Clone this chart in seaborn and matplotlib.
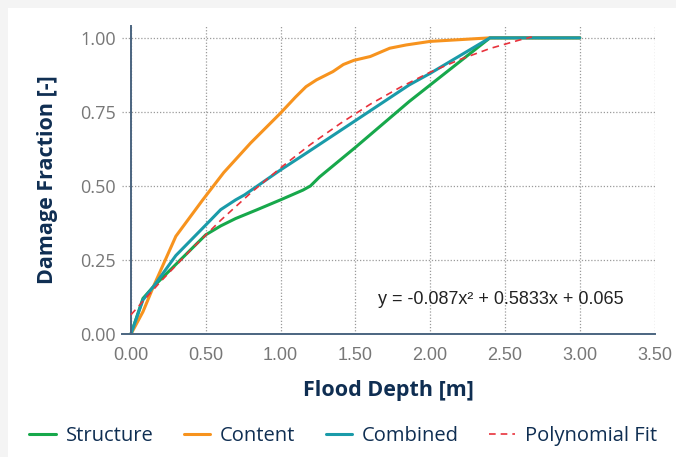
import pandas as pd
import matplotlib.pyplot as plt
import seaborn as sns
from matplotlib.patches import Rectangle

# -------------------- DATA --------------------
structure_depth = [0.0, 0.08, 0.15, 0.30, 0.50, 0.60, 0.70, 0.84, 1.00, 1.15, 1.20, 1.26, 1.50, 1.86, 2.40, 3.00]
structure_damage = [0.0, 0.12, 0.16, 0.235, 0.335, 0.365, 0.39, 0.419, 0.453, 0.486, 0.50, 0.53, 0.63, 0.785, 1.0, 1.0]

content_depth = [0.0, 0.08, 0.15, 0.30, 0.48, 0.62, 0.80, 1.00, 1.10, 1.17, 1.24, 1.35, 1.42, 1.49, 1.60, 1.73, 1.84, 2.00, 2.40, 3.00]
content_damage = [0.0, 0.075, 0.16, 0.33, 0.453, 0.545, 0.645, 0.746, 0.80, 0.835, 0.858, 0.886, 0.91, 0.924, 0.937, 0.965, 0.976, 0.988, 1.0, 1.0]

combined_depth = [0.0, 0.08, 0.15, 0.30, 0.50, 0.60, 0.70, 0.76, 1.00, 1.17, 1.49, 1.86, 2.00, 2.40, 3.00]
combined_damage = [0.0, 0.115, 0.16, 0.265, 0.368, 0.42, 0.453, 0.47, 0.554, 0.61, 0.717, 0.841, 0.88, 1.0, 1.0]

fit_depth = [0.0, 0.2, 0.4, 0.6, 0.8, 1.0, 1.2, 1.4, 1.6, 1.8, 2.0, 2.2, 2.4, 2.6, 2.68]
fit_damage = [0.065, 0.178, 0.284, 0.384, 0.476, 0.561, 0.640, 0.711, 0.776, 0.833, 0.884, 0.927, 0.964, 0.993, 1.003]

fit_label = "y = -0.087x² + 0.5833x + 0.065"
x_ticks = [0.0, 0.5, 1.0, 1.5, 2.0, 2.5, 3.0, 3.5]
y_ticks = [0.0, 0.25, 0.5, 0.75, 1.0]

# -------------------- STYLE --------------------
sns.set_theme(style="white")
plt.rcParams["font.family"] = ["Open Sans", "DejaVu Sans"]

navy = "#0f2e52"
colors = {"Structure": "#17a84b", "Content": "#f7931e", "Combined": "#1a9ba9"}

fig = plt.figure(figsize=(6.76, 4.57), dpi=100, facecolor="#f4f4f4")
fig.patches.append(Rectangle((8 / 676, 0), 1, 1 - 8 / 457, transform=fig.transFigure,
                             facecolor="white", edgecolor="none", zorder=-10))
ax = fig.add_axes([122 / 676, 1 - 334 / 457, (654.5 - 122) / 676, (334 - 26) / 457])
ax.set_facecolor("none")

# -------------------- LINES --------------------
sns.lineplot(x=structure_depth, y=structure_damage, ax=ax, color=colors["Structure"],
             lw=2.2, label="Structure", sort=False)
sns.lineplot(x=content_depth, y=content_damage, ax=ax, color=colors["Content"],
             lw=2.2, label="Content", sort=False)
sns.lineplot(x=fit_depth, y=fit_damage, ax=ax, color="#e8323c", lw=1.2,
             label="Polynomial Fit", sort=False, zorder=3)
sns.lineplot(x=combined_depth, y=combined_damage, ax=ax, color=colors["Combined"],
             lw=2.2, label="Combined", sort=False, zorder=2.5)
ax.lines[2].set_linestyle((0, (4, 3)))

# -------------------- AXES --------------------
ax.set_xlim(-0.06, 3.5)
ax.set_ylim(0, 1.04)
ax.set_xticks(x_ticks)
ax.set_yticks(y_ticks)
ax.set_xticklabels([f"{v:.2f}" for v in x_ticks])
ax.set_yticklabels([f"{v:.2f}" for v in y_ticks])
ax.tick_params(length=0, labelsize=13, labelcolor="#777777")
ax.tick_params(axis="y", pad=11)
ax.tick_params(axis="x", pad=9)
for lab in ax.get_xticklabels() + ax.get_yticklabels():
    lab.set_family(["Liberation Sans", "DejaVu Sans"])

ax.grid(True, linestyle=(0, (1, 1.5)), color="#9a9a9a", lw=0.9)
for s in ["top", "right"]:
    ax.spines[s].set_visible(False)
ax.spines["left"].set_position(("data", 0))
for s in ["left", "bottom"]:
    ax.spines[s].set_color("#4b6580")
    ax.spines[s].set_linewidth(1.4)

ax.set_xlabel("Flood Depth [m]", fontsize=15.5, fontweight="bold", color=navy, labelpad=12)
ax.set_ylabel("Damage Fraction [-]", fontsize=15.5, fontweight="bold", color=navy, labelpad=16)

ax.text(2.47, 0.115, fit_label, ha="center", va="center", fontsize=13, color="#222222",
        family=["Liberation Sans", "DejaVu Sans"])

# -------------------- LEGEND --------------------
handles, labels = ax.get_legend_handles_labels()
order = ["Structure", "Content", "Combined", "Polynomial Fit"]
hmap = dict(zip(labels, handles))
ax.get_legend().remove()
fig.legend([hmap[k] for k in order], order, loc="center", bbox_to_anchor=(0.508, 1 - 436 / 457),
           ncol=4, frameon=False, fontsize=14.5, labelcolor=navy, handlelength=1.3,
           columnspacing=1.5, handletextpad=0.5)

fig.savefig("out.png", dpi=100, facecolor=fig.get_facecolor())
